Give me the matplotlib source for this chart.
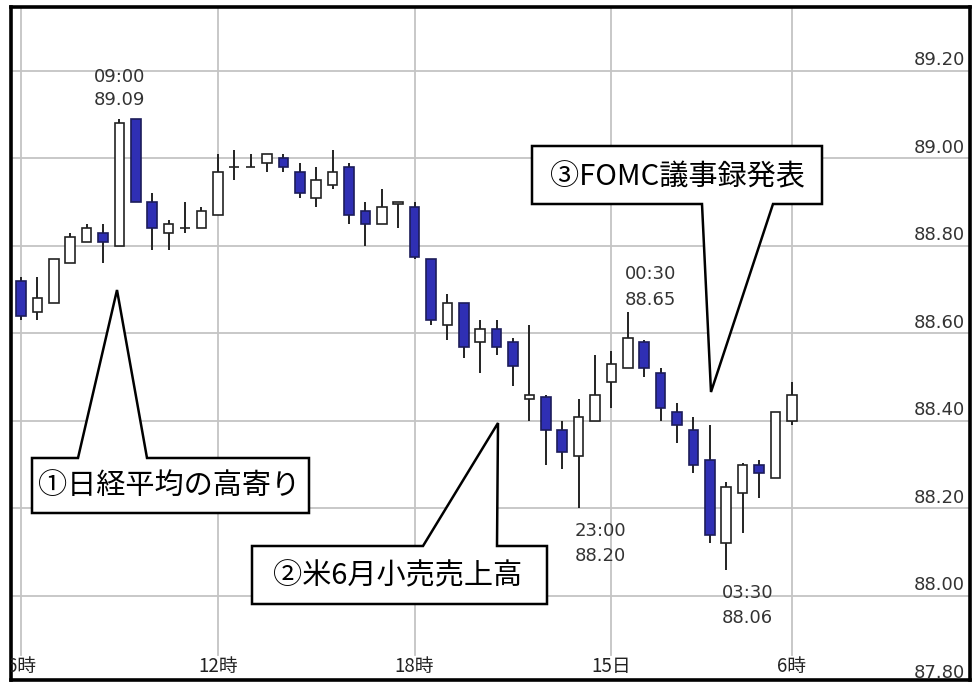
import matplotlib
matplotlib.use('Agg')
import matplotlib.pyplot as plt
from matplotlib.patches import Rectangle, Polygon
from matplotlib.transforms import Affine2D, blended_transform_factory

plt.rcParams['font.family'] = ['Noto Sans CJK JP', 'DejaVu Sans']

# 30分足 (14日 06:00 〜 15日 05:30)
opens = [88.72, 88.65, 88.67, 88.76, 88.81, 88.83, 88.80, 89.09, 88.90, 88.83,
         88.84, 88.84, 88.87, 88.98, 88.98, 88.99, 89.00, 88.97, 88.91, 88.94,
         88.98, 88.88, 88.85, 88.895, 88.89, 88.77, 88.62, 88.67, 88.58, 88.61,
         88.58, 88.45, 88.455, 88.38, 88.32, 88.40, 88.49, 88.52, 88.58, 88.51,
         88.42, 88.38, 88.31, 88.12, 88.235, 88.30, 88.27, 88.40]
highs = [88.73, 88.73, 88.77, 88.83, 88.85, 88.85, 89.09, 89.09, 88.92, 88.86,
         88.90, 88.89, 89.01, 89.02, 89.01, 89.01, 89.01, 88.99, 88.98, 89.02,
         88.99, 88.90, 88.93, 88.90, 88.90, 88.77, 88.69, 88.67, 88.63, 88.63,
         88.59, 88.62, 88.46, 88.40, 88.45, 88.55, 88.56, 88.65, 88.585, 88.52,
         88.44, 88.41, 88.39, 88.26, 88.305, 88.31, 88.42, 88.49]
lows = [88.63, 88.63, 88.67, 88.76, 88.81, 88.76, 88.80, 88.90, 88.79, 88.79,
        88.83, 88.84, 88.87, 88.95, 88.98, 88.97, 88.97, 88.91, 88.89, 88.93,
        88.85, 88.80, 88.85, 88.84, 88.77, 88.62, 88.585, 88.545, 88.51, 88.55,
        88.48, 88.40, 88.30, 88.29, 88.20, 88.40, 88.43, 88.52, 88.50, 88.40,
        88.35, 88.28, 88.12, 88.06, 88.145, 88.225, 88.27, 88.39]
closes = [88.64, 88.68, 88.77, 88.82, 88.84, 88.81, 89.08, 88.90, 88.84, 88.85,
          88.84, 88.88, 88.97, 88.98, 88.98, 89.01, 88.98, 88.92, 88.95, 88.97,
          88.87, 88.85, 88.89, 88.90, 88.775, 88.63, 88.67, 88.57, 88.61, 88.57,
          88.525, 88.46, 88.38, 88.33, 88.41, 88.46, 88.53, 88.59, 88.52, 88.43,
          88.39, 88.30, 88.14, 88.25, 88.30, 88.28, 88.42, 88.46]

x_tick_pos = [0, 12, 24, 36, 47]
x_tick_labels = ['6時', '12時', '18時', '15日', '6時']
y_ticks = [87.80, 88.00, 88.20, 88.40, 88.60, 88.80, 89.00, 89.20]

# 高値・安値の注記 (足の番号, 'high'/'low', 時刻, 値)
extremes = [(6, 'high', '09:00', '89.09'),
            (37, 'high', '00:30', '88.65'),
            (34, 'low', '23:00', '88.20'),
            (43, 'low', '03:30', '88.06')]

events = ['①日経平均の高寄り', '②米6月小売売上高', '③FOMC議事録発表']

W, H = 974, 682
fig = plt.figure(figsize=(W / 100, H / 100), dpi=100)
ax = fig.add_axes([11 / W, 2 / H, 959 / W, 673 / H])
ax.set_xlim(-0.61, 57.87)
ax.set_ylim(87.808, 89.346)
ax.set_xticks([])
ax.set_yticks([])
for s in ax.spines.values():
    s.set_linewidth(2.6)
    s.set_color('black')

grid_c = '#c4c4c4'
for v in y_ticks:
    ax.axhline(v, color=grid_c, lw=1.3, zorder=0)
for p in x_tick_pos:
    ax.axvline(p, ymin=0.037, ymax=1, color=grid_c, lw=1.3, zorder=0)

# ローソク足
blue = '#2f2fb4'
bw = 0.58
for i, (o, h, l, c) in enumerate(zip(opens, highs, lows, closes)):
    ax.vlines(i, l, h, color='#222222', lw=1.4, zorder=2)
    up = c >= o
    ax.add_patch(Rectangle((i - bw / 2, min(o, c)), bw, abs(c - o),
                           facecolor='white' if up else blue,
                           edgecolor='#222222' if up else '#1c1c5a',
                           lw=1.2, zorder=3))

# 軸ラベル
num_font = dict(fontsize=13, color='#333333', family='DejaVu Sans')
tr_y = blended_transform_factory(ax.transAxes, ax.transData)
for v in y_ticks:
    ax.text(0.995, v + 0.004, f'{v:.2f}', transform=tr_y, ha='right', va='bottom',
            clip_on=True, **num_font)
tr_x = blended_transform_factory(ax.transData, ax.transAxes)
for p, lab in zip(x_tick_pos, x_tick_labels):
    ax.text(p, 0.004, lab, transform=tr_x, ha='center', va='bottom',
            fontsize=13.5, color='#222222', clip_on=True)

for i, kind, t, val in extremes:
    if kind == 'high':
        if i == 6:
            ax.annotate(f'{t}\n{val}', (i, highs[i]), xytext=(0, 7),
                        textcoords='offset points', ha='center', va='bottom',
                        linespacing=1.35, **num_font)
        else:
            ax.annotate(f'{t}\n{val}', (i, highs[i]), xytext=(-2, 2),
                        textcoords='offset points', ha='left', va='bottom',
                        linespacing=1.55, **num_font)
    else:
        ax.annotate(f'{t}\n{val}', (i, lows[i]), xytext=(-3, -10),
                    textcoords='offset points', ha='left', va='top',
                    linespacing=1.5, **num_font)

# 吹き出し (画像ピクセル座標)
pix = Affine2D().scale(1 / W, -1 / H).translate(0, 1) + fig.transFigure
callouts = [
    [(32, 458), (78, 458), (117, 290), (147, 458), (309, 458), (309, 513), (32, 513)],
    [(252, 546), (423, 546), (498, 423), (497, 546), (547, 546), (547, 604), (252, 604)],
    [(532, 146), (822, 146), (822, 204), (773, 204), (711, 392), (702, 204), (532, 204)],
]
centers = [(169, 486), (398, 576), (677, 177)]
for verts, (cx, cy), txt in zip(callouts, centers, events):
    fig.patches.append(Polygon(verts, closed=True, facecolor='white',
                               edgecolor='black', lw=1.8, transform=pix,
                               zorder=5))
    fig.text(cx, cy, txt, transform=pix, ha='center', va='center',
             fontsize=21, color='black', zorder=6)

fig.savefig('out.png', dpi=100)
